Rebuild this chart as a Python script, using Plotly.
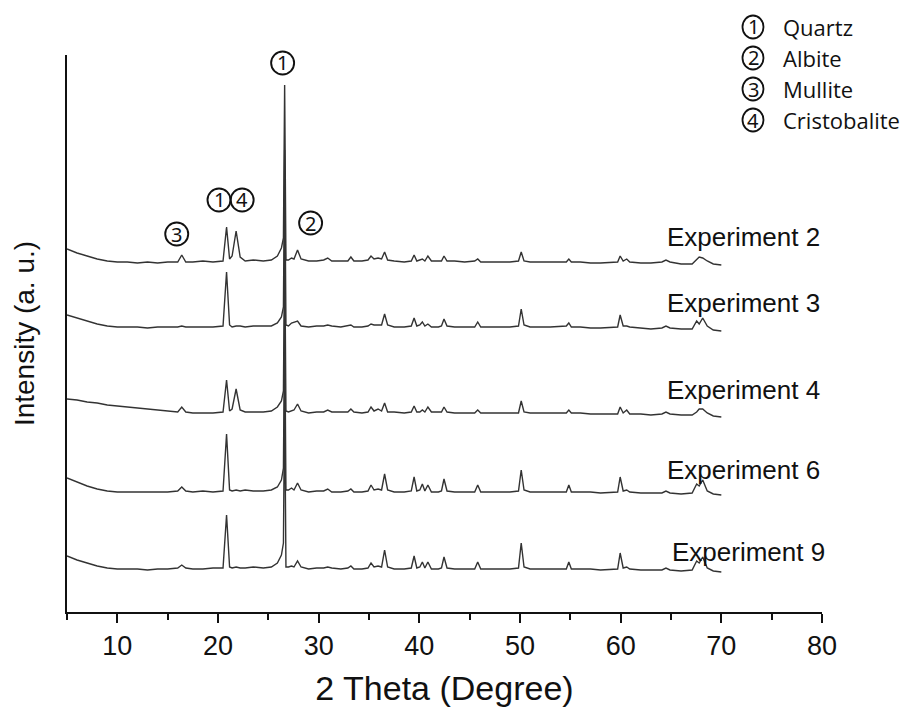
import plotly.graph_objects as go

# 2-theta positions (degree) shared by all patterns
two_theta = [5, 6, 7, 8, 9, 10, 11, 12, 13, 14,
             15, 16.0, 16.4, 16.8, 17.5, 18.5, 19.5, 20.5, 20.85, 21.15,
             21.4, 21.8, 22.2, 22.7, 23.5, 24.5, 25.3, 25.9, 26.3, 26.5,
             26.62, 26.75, 27.0, 27.3, 27.55, 27.9, 28.25, 29.0, 29.8, 30.5,
             30.9, 31.3, 32.2, 32.9, 33.2, 33.5, 34.3, 34.9, 35.2, 35.5,
             35.9, 36.25, 36.55, 36.85, 37.5, 38.5, 39.2, 39.48, 39.75, 40.05,
             40.3, 40.55, 40.85, 41.2, 41.9, 42.2, 42.45, 42.75, 43.5, 44.5,
             45.5, 45.8, 46.1, 47, 48, 49, 49.85, 50.12, 50.4, 51,
             52, 53, 54.6, 54.85, 55.1, 56, 57, 58, 59.7, 59.95,
             60.25, 60.6, 60.9, 62, 63, 64.1, 64.5, 64.9, 66, 67.1,
             67.55, 67.8, 68.15, 68.6, 69.2, 70]

# intensities (a.u.), relative to each pattern's baseline
exp2 = [13, 9, 6, 3, 1, 0, 0, -1, 0, -1,
        0, 0, 7, 0, 0, 1, 0, 1, 35, 3,
        6, 31, 5, 1, 2, 1, 2, 6, 14, 24,
        177, 2, 2, 4, 3, 12, 3, 1, 1, 2,
        4, 1, 1, 1, 5, 1, 1, 2, 6, 3,
        4, 3, 10, 2, 1, 0, 1, 7, 1, 2,
        3, 1, 6, 1, 1, 1, 6, 1, 1, 0,
        1, 3, 0, 0, 0, 0, 1, 10, 1, 0,
        0, 0, 0, 3, 0, 0, -1, -1, 0, 6,
        1, 3, 0, -1, -1, 0, 2, 0, -2, -2,
        2, 5, 4, 1, -2, -3]
exp3 = [12, 9, 6, 3, 1, 0, 0, 0, -1, 0,
        0, 0, 1, 0, 0, 0, 0, 1, 55, 2,
        0, 1, 1, 0, 1, 1, 1, 4, 10, 20,
        177, 2, 1, 4, 5, 6, 1, 0, 1, 1,
        2, 1, 0, 1, 2, 0, 0, 1, 3, 2,
        2, 2, 13, 2, 0, 0, 1, 9, 1, 2,
        5, 1, 3, 0, 0, 1, 8, 1, 0, 0,
        0, 5, 0, 0, 0, 0, 1, 18, 2, 0,
        0, 0, 1, 4, 0, 0, -1, -1, 0, 12,
        1, 1, 0, -1, -2, -1, 1, -1, -2, -2,
        6, 3, 9, 1, -3, -4]
exp4 = [14, 13, 11, 10, 8, 7, 6, 5, 4, 3,
        2, 1, 6, 1, 0, 0, 0, 1, 33, 2,
        4, 24, 3, 1, 1, 1, 2, 6, 12, 22,
        177, 2, 1, 2, 3, 9, 2, 0, 1, 1,
        3, 1, 1, 1, 4, 1, 0, 1, 6, 2,
        4, 2, 10, 1, 1, 0, 1, 7, 1, 1,
        3, 1, 6, 1, 1, 1, 6, 1, 0, 0,
        0, 3, 0, 0, 0, 0, 0, 12, 1, 0,
        0, 0, 0, 3, 0, 0, -1, -1, -1, 6,
        0, 3, -1, -1, -2, -1, 1, -1, -2, -2,
        1, 4, 4, 0, -3, -4]
exp6 = [14, 10, 6, 3, 1, 0, 0, 0, 0, 0,
        0, 1, 5, 1, 0, 1, 0, 1, 58, 2,
        1, 2, 1, 2, 1, 1, 2, 5, 12, 24,
        177, 2, 2, 4, 2, 9, 2, 0, 1, 1,
        3, 0, 0, 1, 3, 0, 0, 1, 7, 2,
        3, 2, 18, 2, 0, 0, 1, 15, 1, 2,
        8, 1, 7, 0, 0, 1, 13, 1, 0, 0,
        0, 7, 0, 0, 0, 0, 1, 22, 2, 0,
        0, 0, 0, 7, 0, 0, 0, -1, 0, 15,
        1, 2, 0, -1, -1, -1, 1, -1, -2, -1,
        8, 6, 12, 1, -2, -3]
exp9 = [13, 9, 6, 3, 1, 0, 0, 0, -1, 0,
        0, 1, 4, 1, 0, 0, 1, 1, 54, 2,
        1, 2, 1, 1, 2, 1, 2, 6, 14, 26,
        177, 2, 2, 3, 2, 8, 2, 0, 1, 1,
        2, 1, 0, 1, 3, 0, 0, 1, 6, 2,
        3, 2, 19, 2, 0, 0, 1, 13, 1, 2,
        7, 1, 7, 0, 0, 1, 12, 1, 0, 0,
        0, 7, 0, 0, 0, 0, 1, 26, 2, 0,
        0, 0, 0, 7, 0, 0, 0, -1, 0, 16,
        1, 2, 0, -1, -1, -1, 1, -1, -2, -1,
        8, 6, 12, 1, -2, -3]

series_names = ["Experiment 2", "Experiment 3", "Experiment 4", "Experiment 6", "Experiment 9"]
series_values = [exp2, exp3, exp4, exp6, exp9]
offsets = [350, 285, 199, 120, 43]          # vertical stacking offsets
label_y = [375, 309, 222, 142, 60]          # label positions in intensity units
label_x = [80, 80, 80, 80, 80.5]            # right edge of labels in 2-theta units

x_ticks = [10, 20, 30, 40, 50, 60, 70, 80]

# phase markers on the pattern
marker_text = ["1", "1", "4", "3", "2"]
marker_x = [26.42, 20.1, 22.4, 15.9, 29.2]
marker_y = [549, 412, 412, 378, 389]

legend_marks = ["1", "2", "3", "4"]
legend_names = ["Quartz", "Albite", "Mullite", "Cristobalite"]

X0, X1, Y0, Y1 = 5, 80, 0, 557


def xp(xv):
    return (xv - X0) / (X1 - X0)


def yp(yv):
    return (yv - Y0) / (Y1 - Y0)


fig = go.Figure()
for name, vals, off in zip(series_names, series_values, offsets):
    fig.add_trace(go.Scatter(
        x=two_theta, y=[v + off for v in vals], mode="lines", name=name,
        line=dict(color="#333333", width=1.4), showlegend=False))

annotations = []
shapes = []
for name, lx, ly in zip(series_names, label_x, label_y):
    annotations.append(dict(x=xp(lx), y=yp(ly), xref="paper", yref="paper", text=name,
                            showarrow=False, xanchor="right", yanchor="middle",
                            font=dict(family="Arial, Liberation Sans", size=26, color="#111")))
for t, mx, my in zip(marker_text, marker_x, marker_y):
    shapes.append(dict(type="circle", xref="paper", yref="paper", xsizemode="pixel", ysizemode="pixel",
                       xanchor=xp(mx), yanchor=yp(my), x0=-11.5, x1=11.5, y0=-11.5, y1=11.5,
                       line=dict(color="#111", width=1.9)))
    annotations.append(dict(x=xp(mx), y=yp(my), xref="paper", yref="paper", text=t, showarrow=False,
                            xanchor="center", yanchor="middle",
                            font=dict(family="Noto Sans", size=20, color="#111")))
leg_y = [27, 58, 89, 120]
for t, n, py in zip(legend_marks, legend_names, leg_y):
    ypp = (612 - py) / 557
    xc = (753 - 67) / 755
    shapes.append(dict(type="circle", xref="paper", yref="paper", xsizemode="pixel", ysizemode="pixel",
                       xanchor=xc, yanchor=ypp, x0=-10.5, x1=10.5, y0=-11.5, y1=11.5,
                       line=dict(color="#111", width=1.8)))
    annotations.append(dict(x=xc, y=ypp, xref="paper", yref="paper", text=t,
                            showarrow=False, xanchor="center", yanchor="middle",
                            font=dict(family="Noto Sans", size=20, color="#111")))
    annotations.append(dict(x=(781 - 67) / 755, y=ypp, xref="paper", yref="paper", text=n,
                            showarrow=False, xanchor="left", yanchor="middle",
                            font=dict(family="Open Sans", size=22, color="#111")))

fig.update_layout(
    width=909, height=722,
    margin=dict(l=67, r=87, t=55, b=110),
    paper_bgcolor="white", plot_bgcolor="white",
    annotations=annotations, shapes=shapes,
    font=dict(family="Arial, Liberation Sans", color="#111"),
)
fig.update_xaxes(
    range=[X0, X1], tickvals=x_ticks, ticks="outside", ticklen=9, tickwidth=1.5,
    tickcolor="#111", showline=True, linecolor="#111", linewidth=1.5,
    showgrid=False, zeroline=False,
    tickfont=dict(family="Arial, Liberation Sans", size=27, color="#111"),
    minor=dict(dtick=5, tick0=5, ticks="outside", ticklen=6, tickwidth=1.5, tickcolor="#111", showgrid=False),
    title=dict(text="2 Theta (Degree)", font=dict(family="Arial, Liberation Sans", size=34, color="#111"), standoff=16),
)
fig.update_yaxes(
    range=[Y0, Y1], showticklabels=False, ticks="", showline=True, linecolor="#111",
    linewidth=1.5, showgrid=False, zeroline=False,
    title=dict(text="Intensity (a. u.)", font=dict(family="Arial, Liberation Sans", size=28, color="#111"), standoff=22),
)

fig.write_html("out.html", config={"displayModeBar": False})
